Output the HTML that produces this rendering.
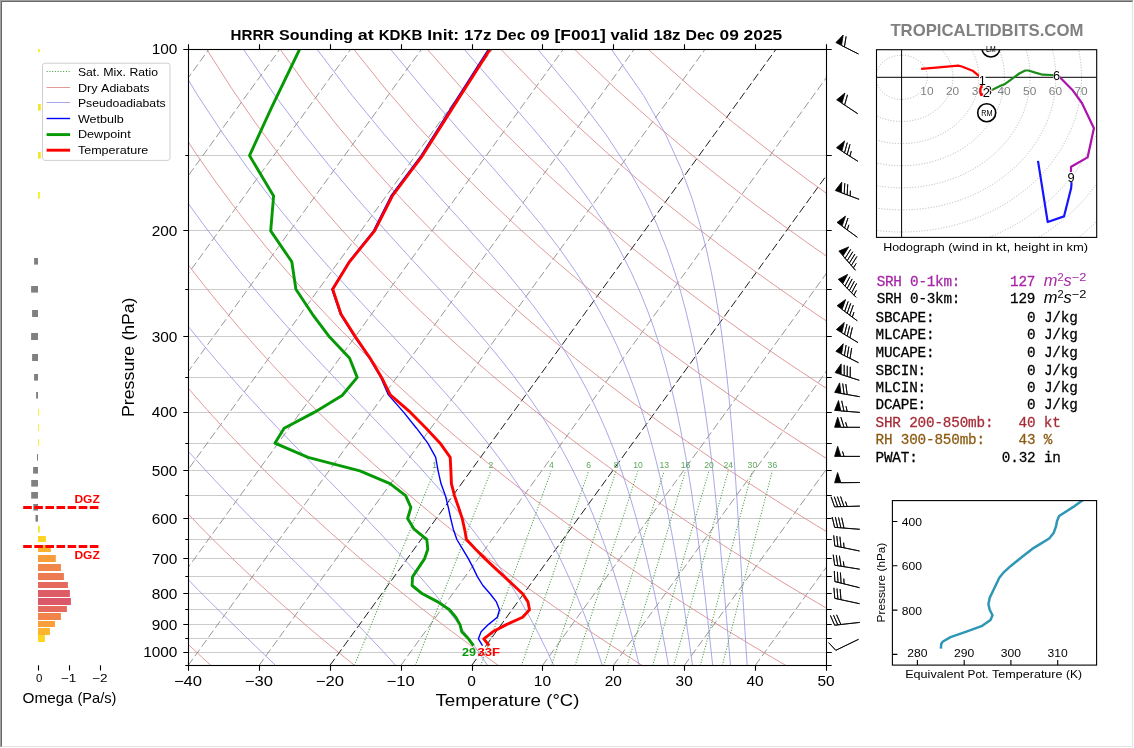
<!DOCTYPE html>
<html>
<head>
<meta charset="utf-8">
<title>HRRR Sounding at KDKB</title>
<style>
html,body{margin:0;padding:0;background:#fff;}
body{width:1134px;height:748px;overflow:hidden;position:relative;font-family:"Liberation Sans",sans-serif;}
#frame{position:absolute;left:0;top:0;width:1133px;height:747px;box-sizing:border-box;border-top:1px solid #a0a0a0;border-left:1px solid #a0a0a0;}
#frame2{position:absolute;left:1px;top:1px;width:1132px;height:746px;box-sizing:border-box;border-top:1px solid #696969;border-left:1px solid #696969;border-right:1px solid #e3e3e3;border-bottom:1px solid #e3e3e3;}
svg{position:absolute;left:0;top:0;will-change:transform;transform:translateZ(0);}
svg text{font-family:"Liberation Sans",sans-serif;}
svg text.m{font-family:"Liberation Mono",monospace;}
</style>
</head>
<body>
<div id="frame"></div><div id="frame2"></div>
<svg width="1134" height="748" viewBox="0 0 1134 748">
<clipPath id="cm"><rect x="188" y="49.7" width="638" height="615.9"/></clipPath>
<g clip-path="url(#cm)" fill="none">
<path d="M188 49.5H826M188 155.5H826M188 230.5H826M188 289.5H826M188 336.5H826M188 377.5H826M188 412.5H826M188 443.5H826M188 470.5H826M188 495.5H826M188 518.5H826M188 539.5H826M188 558.5H826M188 576.5H826M188 593.5H826M188 609.5H826M188 624.5H826M188 638.5H826M188 652.5H826" stroke="#cbcbcb" stroke-width="1"/>
<path d="M-450 665.6L-4.1 49.7M-379.1 665.6L66.8 49.7M-308.2 665.6L137.7 49.7M-237.3 665.6L208.6 49.7M-166.4 665.6L279.5 49.7M-95.6 665.6L350.4 49.7M-24.7 665.6L421.2 49.7M46.2 665.6L492.1 49.7M117.1 665.6L563 49.7M188 665.6L633.9 49.7M258.9 665.6L704.8 49.7M400.7 665.6L846.6 49.7M542.4 665.6L988.4 49.7M613.3 665.6L1059.2 49.7M684.2 665.6L1130.1 49.7M755.1 665.6L1201 49.7M826 665.6L1271.9 49.7" stroke="#848484" stroke-width="0.85" stroke-dasharray="8.3 3.35"/>
<path d="M329.8 665.6L775.7 49.7M471.6 665.6L917.5 49.7" stroke="#111" stroke-width="0.95" stroke-dasharray="8.3 3.35"/>
<path d="M211.1 665.6 L206.7 661.6 L202.2 657.4 L197.7 653.3 L193.2 649 L188.6 644.7 L184 640.3 L179.3 635.9 L174.6 631.3 L169.9 626.7 L165.1 622 L160.3 617.2 L155.4 612.3 L150.5 607.4 L145.5 602.3 L140.5 597.1 L135.4 591.9 L130.3 586.5 L125.1 581 L119.9 575.4 L114.6 569.7 L109.2 563.8 L103.8 557.8 L98.4 551.7 L92.8 545.4 L87.2 539 L81.6 532.4 L75.8 525.6 L70 518.6 L64.2 511.5 L58.2 504.2 L52.2 496.6 L46.1 488.9 L39.9 480.9 L33.6 472.6 L27.2 464.1 L20.8 455.2 L14.2 446.1 L7.6 436.7 L0.8 426.9 L-6 416.7 L-13 406.1 L-20.1 395 L-27.3 383.5 L-34.7 371.4 L-42.1 358.8 L-49.7 345.5 L-57.5 331.5 L-65.4 316.7 L-73.4 301 L-81.6 284.3 L-89.9 266.5 L-98.4 247.4 L-107.1 226.8 L-115.9 204.4 L-124.8 179.9 L-133.8 152.9 L-143 122.8 L-152.1 88.8 L-161 49.7M354.9 665.6 L349.8 661.6 L344.7 657.4 L339.6 653.3 L334.4 649 L329.1 644.7 L323.9 640.3 L318.5 635.9 L313.1 631.3 L307.7 626.7 L302.2 622 L296.7 617.2 L291.1 612.3 L285.4 607.4 L279.7 602.3 L273.9 597.1 L268.1 591.9 L262.2 586.5 L256.2 581 L250.2 575.4 L244.1 569.7 L237.9 563.8 L231.7 557.8 L225.4 551.7 L219 545.4 L212.5 539 L205.9 532.4 L199.3 525.6 L192.6 518.6 L185.8 511.5 L178.8 504.2 L171.8 496.6 L164.7 488.9 L157.5 480.9 L150.2 472.6 L142.7 464.1 L135.2 455.2 L127.5 446.1 L119.7 436.7 L111.7 426.9 L103.6 416.7 L95.4 406.1 L87 395 L78.5 383.5 L69.7 371.4 L60.8 358.8 L51.8 345.5 L42.5 331.5 L33 316.7 L23.3 301 L13.4 284.3 L3.2 266.5 L-7.2 247.4 L-17.9 226.8 L-28.8 204.4 L-40 179.9 L-51.5 152.9 L-63.3 122.8 L-75.3 88.8 L-87.4 49.7M498.6 665.6 L493 661.6 L487.2 657.4 L481.4 653.3 L475.6 649 L469.7 644.7 L463.7 640.3 L457.7 635.9 L451.6 631.3 L445.5 626.7 L439.3 622 L433 617.2 L426.7 612.3 L420.3 607.4 L413.9 602.3 L407.4 597.1 L400.8 591.9 L394.1 586.5 L387.3 581 L380.5 575.4 L373.6 569.7 L366.6 563.8 L359.5 557.8 L352.4 551.7 L345.1 545.4 L337.8 539 L330.3 532.4 L322.8 525.6 L315.1 518.6 L307.3 511.5 L299.5 504.2 L291.5 496.6 L283.3 488.9 L275.1 480.9 L266.7 472.6 L258.2 464.1 L249.5 455.2 L240.7 446.1 L231.7 436.7 L222.6 426.9 L213.3 416.7 L203.8 406.1 L194.1 395 L184.2 383.5 L174.1 371.4 L163.8 358.8 L153.3 345.5 L142.5 331.5 L131.4 316.7 L120 301 L108.4 284.3 L96.4 266.5 L84.1 247.4 L71.4 226.8 L58.3 204.4 L44.8 179.9 L30.8 152.9 L16.4 122.8 L1.5 88.8 L-13.8 49.7M642.4 665.6 L636.1 661.6 L629.7 657.4 L623.3 653.3 L616.8 649 L610.2 644.7 L603.6 640.3 L596.9 635.9 L590.1 631.3 L583.3 626.7 L576.4 622 L569.4 617.2 L562.4 612.3 L555.3 607.4 L548.1 602.3 L540.8 597.1 L533.4 591.9 L526 586.5 L518.5 581 L510.8 575.4 L503.1 569.7 L495.3 563.8 L487.4 557.8 L479.4 551.7 L471.3 545.4 L463 539 L454.7 532.4 L446.2 525.6 L437.6 518.6 L428.9 511.5 L420.1 504.2 L411.1 496.6 L402 488.9 L392.7 480.9 L383.3 472.6 L373.7 464.1 L363.9 455.2 L354 446.1 L343.8 436.7 L333.5 426.9 L323 416.7 L312.2 406.1 L301.2 395 L290 383.5 L278.5 371.4 L266.8 358.8 L254.8 345.5 L242.4 331.5 L229.8 316.7 L216.7 301 L203.3 284.3 L189.5 266.5 L175.3 247.4 L160.6 226.8 L145.3 204.4 L129.5 179.9 L113.1 152.9 L96.1 122.8 L78.3 88.8 L59.8 49.7M786.2 665.6 L779.2 661.6 L772.2 657.4 L765.1 653.3 L758 649 L750.7 644.7 L743.4 640.3 L736.1 635.9 L728.6 631.3 L721.1 626.7 L713.5 622 L705.8 617.2 L698.1 612.3 L690.2 607.4 L682.3 602.3 L674.3 597.1 L666.1 591.9 L657.9 586.5 L649.6 581 L641.2 575.4 L632.7 569.7 L624 563.8 L615.3 557.8 L606.4 551.7 L597.4 545.4 L588.3 539 L579.1 532.4 L569.7 525.6 L560.2 518.6 L550.5 511.5 L540.7 504.2 L530.7 496.6 L520.6 488.9 L510.3 480.9 L499.8 472.6 L489.1 464.1 L478.3 455.2 L467.2 446.1 L455.9 436.7 L444.4 426.9 L432.6 416.7 L420.6 406.1 L408.4 395 L395.8 383.5 L383 371.4 L369.8 358.8 L356.3 345.5 L342.4 331.5 L328.1 316.7 L313.4 301 L298.3 284.3 L282.7 266.5 L266.5 247.4 L249.8 226.8 L232.4 204.4 L214.3 179.9 L195.5 152.9 L175.8 122.8 L155.1 88.8 L133.3 49.7M929.9 665.6 L922.3 661.6 L914.7 657.4 L907 653.3 L899.2 649 L891.3 644.7 L883.3 640.3 L875.3 635.9 L867.1 631.3 L858.9 626.7 L850.6 622 L842.2 617.2 L833.7 612.3 L825.2 607.4 L816.5 602.3 L807.7 597.1 L798.8 591.9 L789.8 586.5 L780.7 581 L771.5 575.4 L762.2 569.7 L752.7 563.8 L743.1 557.8 L733.4 551.7 L723.6 545.4 L713.6 539 L703.4 532.4 L693.1 525.6 L682.7 518.6 L672.1 511.5 L661.3 504.2 L650.4 496.6 L639.2 488.9 L627.9 480.9 L616.4 472.6 L604.6 464.1 L592.6 455.2 L580.4 446.1 L568 436.7 L555.3 426.9 L542.3 416.7 L529 406.1 L515.5 395 L501.6 383.5 L487.4 371.4 L472.8 358.8 L457.8 345.5 L442.4 331.5 L426.5 316.7 L410.2 301 L393.3 284.3 L375.8 266.5 L357.8 247.4 L339 226.8 L319.5 204.4 L299.1 179.9 L277.8 152.9 L255.4 122.8 L231.9 88.8 L206.9 49.7M1073.7 665.6 L1065.5 661.6 L1057.2 657.4 L1048.8 653.3 L1040.3 649 L1031.8 644.7 L1023.2 640.3 L1014.4 635.9 L1005.6 631.3 L996.7 626.7 L987.7 622 L978.6 617.2 L969.4 612.3 L960.1 607.4 L950.7 602.3 L941.2 597.1 L931.5 591.9 L921.7 586.5 L911.9 581 L901.8 575.4 L891.7 569.7 L881.4 563.8 L871 557.8 L860.4 551.7 L849.7 545.4 L838.8 539 L827.8 532.4 L816.6 525.6 L805.2 518.6 L793.7 511.5 L781.9 504.2 L770 496.6 L757.8 488.9 L745.5 480.9 L732.9 472.6 L720.1 464.1 L707 455.2 L693.7 446.1 L680.1 436.7 L666.2 426.9 L652 416.7 L637.5 406.1 L622.6 395 L607.4 383.5 L591.8 371.4 L575.7 358.8 L559.3 345.5 L542.3 331.5 L524.9 316.7 L506.9 301 L488.3 284.3 L469 266.5 L449 247.4 L428.2 226.8 L406.5 204.4 L383.9 179.9 L360.1 152.9 L335.1 122.8 L308.6 88.8 L280.5 49.7M1217.5 665.6 L1208.6 661.6 L1199.7 657.4 L1190.7 653.3 L1181.5 649 L1172.3 644.7 L1163 640.3 L1153.6 635.9 L1144.1 631.3 L1134.5 626.7 L1124.8 622 L1115 617.2 L1105.1 612.3 L1095 607.4 L1084.9 602.3 L1074.6 597.1 L1064.2 591.9 L1053.7 586.5 L1043 581 L1032.2 575.4 L1021.2 569.7 L1010.1 563.8 L998.9 557.8 L987.4 551.7 L975.9 545.4 L964.1 539 L952.2 532.4 L940.1 525.6 L927.8 518.6 L915.3 511.5 L902.6 504.2 L889.6 496.6 L876.5 488.9 L863.1 480.9 L849.4 472.6 L835.5 464.1 L821.4 455.2 L806.9 446.1 L792.2 436.7 L777.1 426.9 L761.7 416.7 L745.9 406.1 L729.7 395 L713.2 383.5 L696.2 371.4 L678.7 358.8 L660.8 345.5 L642.3 331.5 L623.3 316.7 L603.6 301 L583.2 284.3 L562.1 266.5 L540.2 247.4 L517.4 226.8 L493.6 204.4 L468.7 179.9 L442.5 152.9 L414.8 122.8 L385.4 88.8 L354.1 49.7M1361.2 665.6 L1351.7 661.6 L1342.2 657.4 L1332.5 653.3 L1322.7 649 L1312.9 644.7 L1302.9 640.3 L1292.8 635.9 L1282.6 631.3 L1272.3 626.7 L1261.9 622 L1251.4 617.2 L1240.8 612.3 L1230 607.4 L1219.1 602.3 L1208 597.1 L1196.9 591.9 L1185.6 586.5 L1174.1 581 L1162.5 575.4 L1150.7 569.7 L1138.8 563.8 L1126.7 557.8 L1114.4 551.7 L1102 545.4 L1089.4 539 L1076.6 532.4 L1063.5 525.6 L1050.3 518.6 L1036.8 511.5 L1023.2 504.2 L1009.3 496.6 L995.1 488.9 L980.7 480.9 L966 472.6 L951 464.1 L935.7 455.2 L920.2 446.1 L904.2 436.7 L888 426.9 L871.3 416.7 L854.3 406.1 L836.8 395 L819 383.5 L800.6 371.4 L781.7 358.8 L762.3 345.5 L742.3 331.5 L721.6 316.7 L700.3 301 L678.2 284.3 L655.3 266.5 L631.5 247.4 L606.6 226.8 L580.7 204.4 L553.5 179.9 L524.8 152.9 L494.5 122.8 L462.2 88.8 L427.7 49.7M1505 665.6 L1494.9 661.6 L1484.7 657.4 L1474.3 653.3 L1463.9 649 L1453.4 644.7 L1442.8 640.3 L1432 635.9 L1421.1 631.3 L1410.2 626.7 L1399 622 L1387.8 617.2 L1376.4 612.3 L1364.9 607.4 L1353.3 602.3 L1341.5 597.1 L1329.6 591.9 L1317.5 586.5 L1305.2 581 L1292.8 575.4 L1280.3 569.7 L1267.5 563.8 L1254.6 557.8 L1241.5 551.7 L1228.2 545.4 L1214.6 539 L1200.9 532.4 L1187 525.6 L1172.8 518.6 L1158.4 511.5 L1143.8 504.2 L1128.9 496.6 L1113.7 488.9 L1098.3 480.9 L1082.5 472.6 L1066.5 464.1 L1050.1 455.2 L1033.4 446.1 L1016.3 436.7 L998.9 426.9 L981 416.7 L962.7 406.1 L944 395 L924.7 383.5 L905 371.4 L884.7 358.8 L863.8 345.5 L842.2 331.5 L820 316.7 L797 301 L773.2 284.3 L748.4 266.5 L722.7 247.4 L695.8 226.8 L667.7 204.4 L638.2 179.9 L607.1 152.9 L574.1 122.8 L539 88.8 L501.3 49.7M1648.7 665.6 L1638 661.6 L1627.2 657.4 L1616.2 653.3 L1605.1 649 L1593.9 644.7 L1582.6 640.3 L1571.2 635.9 L1559.6 631.3 L1548 626.7 L1536.1 622 L1524.2 617.2 L1512.1 612.3 L1499.9 607.4 L1487.5 602.3 L1474.9 597.1 L1462.2 591.9 L1449.4 586.5 L1436.4 581 L1423.2 575.4 L1409.8 569.7 L1396.2 563.8 L1382.4 557.8 L1368.5 551.7 L1354.3 545.4 L1339.9 539 L1325.3 532.4 L1310.5 525.6 L1295.4 518.6 L1280 511.5 L1264.4 504.2 L1248.5 496.6 L1232.4 488.9 L1215.9 480.9 L1199.1 472.6 L1182 464.1 L1164.5 455.2 L1146.6 446.1 L1128.4 436.7 L1109.8 426.9 L1090.7 416.7 L1071.1 406.1 L1051.1 395 L1030.5 383.5 L1009.4 371.4 L987.7 358.8 L965.3 345.5 L942.2 331.5 L918.4 316.7 L893.7 301 L868.1 284.3 L841.6 266.5 L813.9 247.4 L785.1 226.8 L754.8 204.4 L723 179.9 L689.4 152.9 L653.8 122.8 L615.8 88.8 L574.9 49.7M1792.5 665.6 L1781.1 661.6 L1769.6 657.4 L1758 653.3 L1746.3 649 L1734.5 644.7 L1722.5 640.3 L1710.4 635.9 L1698.1 631.3 L1685.8 626.7 L1673.2 622 L1660.6 617.2 L1647.8 612.3 L1634.8 607.4 L1621.7 602.3 L1608.4 597.1 L1594.9 591.9 L1581.3 586.5 L1567.5 581 L1553.5 575.4 L1539.3 569.7 L1524.9 563.8 L1510.3 557.8 L1495.5 551.7 L1480.4 545.4 L1465.2 539 L1449.7 532.4 L1433.9 525.6 L1417.9 518.6 L1401.6 511.5 L1385 504.2 L1368.2 496.6 L1351 488.9 L1333.5 480.9 L1315.6 472.6 L1297.4 464.1 L1278.9 455.2 L1259.9 446.1 L1240.5 436.7 L1220.6 426.9 L1200.3 416.7 L1179.5 406.1 L1158.2 395 L1136.3 383.5 L1113.8 371.4 L1090.6 358.8 L1066.8 345.5 L1042.2 331.5 L1016.7 316.7 L990.4 301 L963.1 284.3 L934.7 266.5 L905.2 247.4 L874.3 226.8 L841.9 204.4 L807.8 179.9 L771.8 152.9 L733.5 122.8 L692.6 88.8 L648.5 49.7" stroke="#dc8888" stroke-width="0.85"/>
<path d="M-124.2 49.7 L-111.8 95.3 L-99.3 134.1 L-87.1 167.9 L-75.1 197.9 L-63.4 224.7 L-52 249.1 L-40.9 271.4 L-30 291.9 L-19.5 311 L-9.1 328.7 L0.9 345.4 L10.8 361 L20.4 375.7 L29.8 389.7 L39 403 L48 415.6 L56.8 427.6 L65.4 439.1 L73.9 450.2 L82.3 460.7 L90.4 470.9 L98.5 480.7 L106.3 490.1 L114.1 499.2 L121.7 508.1 L129.2 516.6 L136.5 524.8 L143.8 532.8 L150.9 540.6 L157.9 548.1 L164.8 555.4 L171.6 562.6 L178.2 569.5 L184.8 576.3 L191.3 582.8 L197.6 589.3 L203.8 595.5 L210 601.7 L216 607.7 L222 613.5 L227.8 619.2 L233.5 624.8 L239.2 630.3 L244.7 635.7 L250.2 641 L255.5 646.1 L260.8 651.2 L265.9 656.1 L271 661 L275.7 665.6M-50.6 49.7 L-34.4 95.3 L-18.7 134.1 L-3.4 167.9 L11.3 197.9 L25.6 224.7 L39.4 249.1 L52.8 271.4 L65.7 291.9 L78.3 311 L90.5 328.7 L102.4 345.4 L114 361 L125.2 375.7 L136.2 389.7 L146.9 403 L157.4 415.6 L167.6 427.6 L177.6 439.1 L187.3 450.2 L196.9 460.7 L206.2 470.9 L215.3 480.7 L224.2 490.1 L232.9 499.2 L241.5 508.1 L249.8 516.6 L257.9 524.8 L265.9 532.8 L273.6 540.6 L281.2 548.1 L288.5 555.4 L295.7 562.6 L302.7 569.5 L309.6 576.3 L316.2 582.8 L322.7 589.3 L329 595.5 L335.1 601.7 L341 607.7 L346.8 613.5 L352.4 619.2 L357.8 624.8 L363.1 630.3 L368.3 635.7 L373.2 641 L378.1 646.1 L382.8 651.2 L387.3 656.1 L391.7 661 L395.8 665.6M23 49.7 L42.9 95.3 L62 134.1 L80.3 167.9 L97.8 197.9 L114.6 224.7 L130.8 249.1 L146.4 271.4 L161.5 291.9 L176 311 L190.1 328.7 L203.7 345.4 L216.9 361 L229.8 375.7 L242.2 389.7 L254.3 403 L266 415.6 L277.3 427.6 L288.3 439.1 L299 450.2 L309.3 460.7 L319.2 470.9 L328.9 480.7 L338.2 490.1 L347.1 499.2 L355.8 508.1 L364.1 516.6 L372 524.8 L379.7 532.8 L387.1 540.6 L394.1 548.1 L400.9 555.4 L407.4 562.6 L413.6 569.5 L419.6 576.3 L425.3 582.8 L430.8 589.3 L436 595.5 L441 601.7 L445.8 607.7 L450.5 613.5 L454.9 619.2 L459.1 624.8 L463.2 630.3 L467.1 635.7 L470.9 641 L474.5 646.1 L478 651.2 L481.4 656.1 L484.6 661 L487.6 665.6M96.6 49.7 L120.2 95.3 L142.7 134.1 L164 167.9 L184.2 197.9 L203.6 224.7 L222.1 249.1 L239.9 271.4 L257 291.9 L273.4 311 L289.1 328.7 L304.2 345.4 L318.8 361 L332.7 375.7 L346 389.7 L358.7 403 L370.9 415.6 L382.4 427.6 L393.4 439.1 L403.8 450.2 L413.7 460.7 L423 470.9 L431.8 480.7 L440.1 490.1 L447.9 499.2 L455.2 508.1 L462.2 516.6 L468.7 524.8 L474.9 532.8 L480.7 540.6 L486.2 548.1 L491.4 555.4 L496.4 562.6 L501 569.5 L505.4 576.3 L509.6 582.8 L513.6 589.3 L517.4 595.5 L521 601.7 L524.4 607.7 L527.7 613.5 L530.8 619.2 L533.8 624.8 L536.7 630.3 L539.5 635.7 L542.1 641 L544.6 646.1 L547.1 651.2 L549.4 656.1 L551.7 661 L553.8 665.6M170.1 49.7 L197.6 95.3 L223.3 134.1 L247.6 167.9 L270.6 197.9 L292.4 224.7 L313.1 249.1 L332.7 271.4 L351.4 291.9 L369 311 L385.7 328.7 L401.3 345.4 L416 361 L429.7 375.7 L442.4 389.7 L454.2 403 L465.1 415.6 L475.2 427.6 L484.6 439.1 L493.2 450.2 L501.1 460.7 L508.4 470.9 L515.2 480.7 L521.5 490.1 L527.3 499.2 L532.8 508.1 L537.8 516.6 L542.5 524.8 L547 532.8 L551.1 540.6 L555 548.1 L558.6 555.4 L562.1 562.6 L565.3 569.5 L568.4 576.3 L571.3 582.8 L574.1 589.3 L576.7 595.5 L579.2 601.7 L581.6 607.7 L583.9 613.5 L586.1 619.2 L588.2 624.8 L590.2 630.3 L592.1 635.7 L594 641 L595.8 646.1 L597.5 651.2 L599.2 656.1 L600.8 661 L602.3 665.6M243.7 49.7 L274.9 95.3 L303.9 134.1 L331 167.9 L356.4 197.9 L380.2 224.7 L402.3 249.1 L422.9 271.4 L441.8 291.9 L459.1 311 L474.8 328.7 L489.1 345.4 L501.9 361 L513.4 375.7 L523.8 389.7 L533.1 403 L541.5 415.6 L549.1 427.6 L556 439.1 L562.3 450.2 L568 460.7 L573.2 470.9 L578 480.7 L582.4 490.1 L586.5 499.2 L590.2 508.1 L593.7 516.6 L597 524.8 L600.1 532.8 L603 540.6 L605.7 548.1 L608.2 555.4 L610.6 562.6 L612.9 569.5 L615 576.3 L617.1 582.8 L619 589.3 L620.9 595.5 L622.7 601.7 L624.4 607.7 L626 613.5 L627.5 619.2 L629 624.8 L630.5 630.3 L631.9 635.7 L633.2 641 L634.5 646.1 L635.8 651.2 L637 656.1 L638.2 661 L639.2 665.6M317.3 49.7 L352 95.3 L384 134.1 L413.5 167.9 L440.3 197.9 L464.7 224.7 L486.4 249.1 L505.7 271.4 L522.5 291.9 L537.2 311 L550 328.7 L561.2 345.4 L570.9 361 L579.4 375.7 L586.9 389.7 L593.6 403 L599.5 415.6 L604.9 427.6 L609.6 439.1 L614 450.2 L617.9 460.7 L621.5 470.9 L624.8 480.7 L627.9 490.1 L630.7 499.2 L633.3 508.1 L635.8 516.6 L638.1 524.8 L640.2 532.8 L642.2 540.6 L644.1 548.1 L645.9 555.4 L647.6 562.6 L649.2 569.5 L650.8 576.3 L652.2 582.8 L653.6 589.3 L655 595.5 L656.3 601.7 L657.5 607.7 L658.7 613.5 L659.8 619.2 L660.9 624.8 L662 630.3 L663 635.7 L664 641 L665 646.1 L665.9 651.2 L666.8 656.1 L667.7 661 L668.5 665.6M390.9 49.7 L428.8 95.3 L462.8 134.1 L492.9 167.9 L518.9 197.9 L541.2 224.7 L559.8 249.1 L575.5 271.4 L588.5 291.9 L599.5 311 L608.8 328.7 L616.8 345.4 L623.6 361 L629.5 375.7 L634.7 389.7 L639.3 403 L643.4 415.6 L647.1 427.6 L650.4 439.1 L653.4 450.2 L656.1 460.7 L658.6 470.9 L660.9 480.7 L663 490.1 L665 499.2 L666.8 508.1 L668.5 516.6 L670.1 524.8 L671.7 532.8 L673.1 540.6 L674.4 548.1 L675.7 555.4 L677 562.6 L678.1 569.5 L679.2 576.3 L680.3 582.8 L681.3 589.3 L682.3 595.5 L683.3 601.7 L684.2 607.7 L685 613.5 L685.9 619.2 L686.7 624.8 L687.5 630.3 L688.3 635.7 L689.1 641 L689.8 646.1 L690.5 651.2 L691.2 656.1 L691.9 661 L692.5 665.6M464.5 49.7 L504.1 95.3 L537.8 134.1 L565.4 167.9 L587.6 197.9 L605.3 224.7 L619.4 249.1 L630.8 271.4 L640 291.9 L647.7 311 L654.1 328.7 L659.5 345.4 L664.2 361 L668.2 375.7 L671.8 389.7 L674.9 403 L677.7 415.6 L680.2 427.6 L682.4 439.1 L684.5 450.2 L686.4 460.7 L688.1 470.9 L689.7 480.7 L691.2 490.1 L692.5 499.2 L693.8 508.1 L695 516.6 L696.2 524.8 L697.2 532.8 L698.3 540.6 L699.2 548.1 L700.2 555.4 L701 562.6 L701.9 569.5 L702.7 576.3 L703.5 582.8 L704.2 589.3 L705 595.5 L705.7 601.7 L706.4 607.7 L707 613.5 L707.7 619.2 L708.3 624.8 L708.9 630.3 L709.5 635.7 L710.1 641 L710.6 646.1 L711.2 651.2 L711.7 656.1 L712.2 661 L712.7 665.6M538.1 49.7 L576.3 95.3 L605.7 134.1 L627.8 167.9 L644.4 197.9 L657 224.7 L666.8 249.1 L674.5 271.4 L680.7 291.9 L685.8 311 L690.1 328.7 L693.7 345.4 L696.8 361 L699.5 375.7 L701.9 389.7 L703.9 403 L705.8 415.6 L707.5 427.6 L709 439.1 L710.4 450.2 L711.6 460.7 L712.8 470.9 L713.9 480.7 L714.9 490.1 L715.8 499.2 L716.7 508.1 L717.5 516.6 L718.3 524.8 L719.1 532.8 L719.8 540.6 L720.5 548.1 L721.1 555.4 L721.8 562.6 L722.4 569.5 L723 576.3 L723.5 582.8 L724.1 589.3 L724.6 595.5 L725.1 601.7 L725.6 607.7 L726.1 613.5 L726.6 619.2 L727.1 624.8 L727.5 630.3 L728 635.7 L728.4 641 L728.8 646.1 L729.3 651.2 L729.7 656.1 L730.1 661 L730.5 665.6M611.7 49.7 L643.5 95.3 L665.5 134.1 L680.8 167.9 L691.9 197.9 L700 224.7 L706.3 249.1 L711.2 271.4 L715.1 291.9 L718.3 311 L721 328.7 L723.2 345.4 L725.1 361 L726.8 375.7 L728.3 389.7 L729.5 403 L730.7 415.6 L731.7 427.6 L732.7 439.1 L733.5 450.2 L734.3 460.7 L735 470.9 L735.7 480.7 L736.3 490.1 L736.9 499.2 L737.5 508.1 L738 516.6 L738.6 524.8 L739 532.8 L739.5 540.6 L740 548.1 L740.4 555.4 L740.8 562.6 L741.3 569.5 L741.7 576.3 L742 582.8 L742.4 589.3 L742.8 595.5 L743.2 601.7 L743.5 607.7 L743.9 613.5 L744.2 619.2 L744.6 624.8 L744.9 630.3 L745.3 635.7 L745.6 641 L745.9 646.1 L746.2 651.2 L746.6 656.1 L746.9 661 L747.2 665.6" stroke="#9898e5" stroke-width="0.85"/>
<path d="M354.3 665.6 L434.4 471.3M415.2 665.6 L490.7 471.3M480.7 665.6 L551.1 471.3M521.4 665.6 L588.5 471.3M551.3 665.6 L616 471.3M575.1 665.6 L637.8 471.3M603.8 665.6 L664.1 471.3M627.1 665.6 L685.4 471.3M652.6 665.6 L708.8 471.3M673.8 665.6 L728.1 471.3M700.3 665.6 L752.2 471.3M722.2 665.6 L772.2 471.3" stroke="#459c45" stroke-width="1.05" stroke-dasharray="1.05 1.7"/>
<text x="434.6" y="468.3" font-size="8.6" fill="#5aa85a" text-anchor="middle" stroke="none">1</text>
<text x="490.9" y="468.3" font-size="8.6" fill="#5aa85a" text-anchor="middle" stroke="none">2</text>
<text x="551.3" y="468.3" font-size="8.6" fill="#5aa85a" text-anchor="middle" stroke="none">4</text>
<text x="588.7" y="468.3" font-size="8.6" fill="#5aa85a" text-anchor="middle" stroke="none">6</text>
<text x="616.2" y="468.3" font-size="8.6" fill="#5aa85a" text-anchor="middle" stroke="none">8</text>
<text x="638" y="468.3" font-size="8.6" fill="#5aa85a" text-anchor="middle" stroke="none">10</text>
<text x="664.3" y="468.3" font-size="8.6" fill="#5aa85a" text-anchor="middle" stroke="none">13</text>
<text x="685.6" y="468.3" font-size="8.6" fill="#5aa85a" text-anchor="middle" stroke="none">16</text>
<text x="709" y="468.3" font-size="8.6" fill="#5aa85a" text-anchor="middle" stroke="none">20</text>
<text x="728.3" y="468.3" font-size="8.6" fill="#5aa85a" text-anchor="middle" stroke="none">24</text>
<text x="752.4" y="468.3" font-size="8.6" fill="#5aa85a" text-anchor="middle" stroke="none">30</text>
<text x="772.4" y="468.3" font-size="8.6" fill="#5aa85a" text-anchor="middle" stroke="none">36</text>
<path d="M488.3 49.5 L451 107.9 L421 155.6 L390.9 196 L373.4 230.9 L348.7 261.8 L331.9 289.3 L340.3 314.3 L354.8 337.1 L369.2 358 L380.7 377.4 L388.4 394.9 L403.8 412.4 L416.5 428.2 L427.8 443.2 L435.7 457.4 L438.1 470.8 L441 483.6 L445.4 495.7 L448.3 507.4 L450.7 518.5 L453.3 529.2 L456.9 539.5 L462.8 549.3 L468.5 558.9 L473.3 568.1 L477.5 576.9 L482.9 585.5 L490.1 593.8 L496.4 601.9 L499.5 609.7 L497.3 617.3 L488.3 624.6 L481.1 631.8 L478.4 638.8 L482.5 645.6" stroke="#0000ff" stroke-width="1.4" stroke-linejoin="round"/>
<path d="M299.5 49.5 L271.4 107.9 L249.5 155.6 L273.6 196 L270.7 230.9 L291.8 261.8 L295.9 289.3 L312.5 314.3 L329.6 337.1 L349.5 358 L357.2 377.4 L342.1 395.5 L314.2 412.4 L284.1 428.2 L274.9 443.2 L308.1 457.4 L359.9 470.8 L390 483.6 L405.6 495.7 L410.9 507.4 L407.6 518.5 L414.1 529.2 L426.8 539.5 L427.8 549.3 L424.5 558.9 L418.3 568.1 L412.5 576.9 L412.1 585.5 L422.4 593.8 L437.8 601.9 L449.5 609.7 L455.8 617.3 L460 624.6 L461.8 631.8 L468.5 638.8 L473.5 645.6" stroke="#059905" stroke-width="2.9" stroke-linejoin="round"/>
<path d="M489.9 49.5 L452.6 107.9 L422.5 155.6 L392.3 196 L374.6 230.9 L349.5 261.8 L332.7 289.3 L341.1 314.3 L355.6 337.1 L370 358 L381.6 377.4 L390.3 394.9 L410.5 412.4 L426.1 428.2 L440.1 443.2 L450.2 457.4 L450.9 470.8 L451.4 483.6 L454.5 495.7 L458.6 507.4 L462.2 518.5 L464.6 529.2 L466.5 539.5 L475.6 549.3 L485.2 558.9 L495 568.1 L504.6 576.9 L513.8 585.5 L522.6 593.8 L528 601.9 L529.5 609.7 L522.6 617.3 L506.4 624.6 L492.8 631.8 L483.8 638.8 L489.2 645.6" stroke="#ff0000" stroke-width="2.9" stroke-linejoin="round"/>
</g>
<text x="462" y="655.6" font-size="11.3" font-weight="bold" fill="#059905" textLength="14" lengthAdjust="spacingAndGlyphs">29</text>
<text x="477.4" y="655.6" font-size="11.3" font-weight="bold" fill="#ff0000" textLength="22.6" lengthAdjust="spacingAndGlyphs">33F</text>
<rect x="188.5" y="49.5" width="638" height="616" fill="none" stroke="#000" stroke-width="1.1"/>
<path d="M188.5 49.5h-5.2M826.5 49.5h5.2M188.5 155.5h-3.2M826.5 155.5h5.2M188.5 230.5h-5.2M826.5 230.5h5.2M188.5 289.5h-3.2M826.5 289.5h5.2M188.5 336.5h-5.2M826.5 336.5h5.2M188.5 377.5h-3.2M826.5 377.5h5.2M188.5 412.5h-5.2M826.5 412.5h5.2M188.5 443.5h-3.2M826.5 443.5h5.2M188.5 470.5h-5.2M826.5 470.5h5.2M188.5 495.5h-3.2M826.5 495.5h5.2M188.5 518.5h-5.2M826.5 518.5h5.2M188.5 539.5h-3.2M826.5 539.5h5.2M188.5 558.5h-5.2M826.5 558.5h5.2M188.5 576.5h-3.2M826.5 576.5h5.2M188.5 593.5h-5.2M826.5 593.5h5.2M188.5 609.5h-3.2M826.5 609.5h5.2M188.5 624.5h-5.2M826.5 624.5h5.2M188.5 638.5h-3.2M826.5 638.5h5.2M188.5 652.5h-5.2M826.5 652.5h5.2M188.5 665.5h-3.2M826.5 665.5h5.2M188.5 665.5v5.2M188.5 49.5v-5.2M259.5 665.5v5.2M259.5 49.5v-5.2M330.5 665.5v5.2M330.5 49.5v-5.2M401.5 665.5v5.2M401.5 49.5v-5.2M472.5 665.5v5.2M472.5 49.5v-5.2M542.5 665.5v5.2M542.5 49.5v-5.2M613.5 665.5v5.2M613.5 49.5v-5.2M684.5 665.5v5.2M684.5 49.5v-5.2M755.5 665.5v5.2M755.5 49.5v-5.2M826.5 665.5v5.2M826.5 49.5v-5.2" stroke="#000" stroke-width="1.1" fill="none"/>
<text x="177.4" y="54.3" font-size="14.2" text-anchor="end" textLength="25.7" lengthAdjust="spacingAndGlyphs">100</text>
<text x="177.4" y="235.9" font-size="14.2" text-anchor="end" textLength="25.7" lengthAdjust="spacingAndGlyphs">200</text>
<text x="177.4" y="342.1" font-size="14.2" text-anchor="end" textLength="25.7" lengthAdjust="spacingAndGlyphs">300</text>
<text x="177.4" y="417.4" font-size="14.2" text-anchor="end" textLength="25.7" lengthAdjust="spacingAndGlyphs">400</text>
<text x="177.4" y="475.9" font-size="14.2" text-anchor="end" textLength="25.7" lengthAdjust="spacingAndGlyphs">500</text>
<text x="177.4" y="523.6" font-size="14.2" text-anchor="end" textLength="25.7" lengthAdjust="spacingAndGlyphs">600</text>
<text x="177.4" y="564" font-size="14.2" text-anchor="end" textLength="25.7" lengthAdjust="spacingAndGlyphs">700</text>
<text x="177.4" y="599" font-size="14.2" text-anchor="end" textLength="25.7" lengthAdjust="spacingAndGlyphs">800</text>
<text x="177.4" y="629.8" font-size="14.2" text-anchor="end" textLength="25.7" lengthAdjust="spacingAndGlyphs">900</text>
<text x="177.4" y="657.4" font-size="14.2" text-anchor="end" textLength="34.2" lengthAdjust="spacingAndGlyphs">1000</text>
<text x="188" y="686.3" font-size="14.2" text-anchor="middle" textLength="28.2" lengthAdjust="spacingAndGlyphs">−40</text>
<text x="258.9" y="686.3" font-size="14.2" text-anchor="middle" textLength="28.2" lengthAdjust="spacingAndGlyphs">−30</text>
<text x="329.8" y="686.3" font-size="14.2" text-anchor="middle" textLength="28.2" lengthAdjust="spacingAndGlyphs">−20</text>
<text x="400.7" y="686.3" font-size="14.2" text-anchor="middle" textLength="28.2" lengthAdjust="spacingAndGlyphs">−10</text>
<text x="471.6" y="686.3" font-size="14.2" text-anchor="middle" textLength="8.6" lengthAdjust="spacingAndGlyphs">0</text>
<text x="542.4" y="686.3" font-size="14.2" text-anchor="middle" textLength="17.2" lengthAdjust="spacingAndGlyphs">10</text>
<text x="613.3" y="686.3" font-size="14.2" text-anchor="middle" textLength="17.2" lengthAdjust="spacingAndGlyphs">20</text>
<text x="684.2" y="686.3" font-size="14.2" text-anchor="middle" textLength="17.2" lengthAdjust="spacingAndGlyphs">30</text>
<text x="755.1" y="686.3" font-size="14.2" text-anchor="middle" textLength="17.2" lengthAdjust="spacingAndGlyphs">40</text>
<text x="826" y="686.3" font-size="14.2" text-anchor="middle" textLength="17.2" lengthAdjust="spacingAndGlyphs">50</text>
<text y="705.6" font-size="17.2"><tspan x="435.4" textLength="105.6" lengthAdjust="spacingAndGlyphs">Temperature</tspan> <tspan x="546.3" textLength="33" lengthAdjust="spacingAndGlyphs">(°C)</tspan></text>
<text y="0" font-size="17.2" transform="translate(133.8 357.3) rotate(-90)"><tspan x="-59.8" textLength="71.2" lengthAdjust="spacingAndGlyphs">Pressure</tspan> <tspan x="16.7" textLength="43.1" lengthAdjust="spacingAndGlyphs">(hPa)</tspan></text>
<text y="39.8" font-size="14.3" font-weight="bold"><tspan x="230.6" textLength="43.7" lengthAdjust="spacingAndGlyphs">HRRR</tspan> <tspan x="279.1" textLength="73.9" lengthAdjust="spacingAndGlyphs">Sounding</tspan> <tspan x="357.8" textLength="16" lengthAdjust="spacingAndGlyphs">at</tspan> <tspan x="378.7" textLength="43.6" lengthAdjust="spacingAndGlyphs">KDKB</tspan> <tspan x="427.2" textLength="32" lengthAdjust="spacingAndGlyphs">Init:</tspan> <tspan x="464" textLength="27.4" lengthAdjust="spacingAndGlyphs">17z</tspan> <tspan x="496.3" textLength="29.2" lengthAdjust="spacingAndGlyphs">Dec</tspan> <tspan x="530.3" textLength="19.3" lengthAdjust="spacingAndGlyphs">09</tspan> <tspan x="554.5" textLength="51.2" lengthAdjust="spacingAndGlyphs">[F001]</tspan> <tspan x="610.5" textLength="37.9" lengthAdjust="spacingAndGlyphs">valid</tspan> <tspan x="653.2" textLength="27.4" lengthAdjust="spacingAndGlyphs">18z</tspan> <tspan x="685.5" textLength="29.2" lengthAdjust="spacingAndGlyphs">Dec</tspan> <tspan x="719.5" textLength="19.3" lengthAdjust="spacingAndGlyphs">09</tspan> <tspan x="743.6" textLength="38.7" lengthAdjust="spacingAndGlyphs">2025</tspan></text>
<rect x="42.5" y="63.2" width="127.5" height="97.2" rx="2.5" fill="#fff" fill-opacity="0.8" stroke="#cfcfcf" stroke-width="1"/>
<path d="M46.6 71.5H70.1" stroke="#459c45" stroke-width="1.05" stroke-dasharray="1.05 1.7" fill="none"/>
<text y="76.2" font-size="11.4"><tspan x="77.9" textLength="21.7" lengthAdjust="spacingAndGlyphs">Sat.</tspan> <tspan x="103.2" textLength="22.8" lengthAdjust="spacingAndGlyphs">Mix.</tspan> <tspan x="129.5" textLength="28.5" lengthAdjust="spacingAndGlyphs">Ratio</tspan></text>
<path d="M46.6 87.5H70.1" stroke="#dc8888" stroke-width="0.85" fill="none"/>
<text y="91.8" font-size="11.4"><tspan x="77.9" textLength="19.7" lengthAdjust="spacingAndGlyphs">Dry</tspan> <tspan x="101.1" textLength="48.4" lengthAdjust="spacingAndGlyphs">Adiabats</tspan></text>
<path d="M46.6 102.5H70.1" stroke="#9898e5" stroke-width="0.85" fill="none"/>
<text y="107.3" font-size="11.4"><tspan x="77.9" textLength="87.8" lengthAdjust="spacingAndGlyphs">Pseudoadiabats</tspan></text>
<path d="M46.6 118.5H70.1" stroke="#0000ff" stroke-width="1.4" fill="none"/>
<text y="122.9" font-size="11.4"><tspan x="77.9" textLength="45.8" lengthAdjust="spacingAndGlyphs">Wetbulb</tspan></text>
<path d="M46.6 134.6H70.1" stroke="#059905" stroke-width="2.9" fill="none"/>
<text y="138.4" font-size="11.4"><tspan x="77.9" textLength="52.8" lengthAdjust="spacingAndGlyphs">Dewpoint</tspan></text>
<path d="M46.6 150.2H70.1" stroke="#ff0000" stroke-width="2.9" fill="none"/>
<text y="154" font-size="11.4"><tspan x="77.9" textLength="70.4" lengthAdjust="spacingAndGlyphs">Temperature</tspan></text>
<rect x="38" y="49" width="1.8" height="3.2" fill="#f0ef23"/>
<rect x="38" y="104" width="2.8" height="6.6" fill="#f3e626"/>
<rect x="38" y="152" width="2.8" height="6.6" fill="#f3e626"/>
<rect x="38" y="192" width="1.8" height="6.6" fill="#f0ef23"/>
<rect x="34.1" y="258" width="3.9" height="6.6" fill="#808080"/>
<rect x="31.1" y="286" width="6.9" height="6.6" fill="#808080"/>
<rect x="32.1" y="310" width="5.9" height="7" fill="#808080"/>
<rect x="31.1" y="333" width="6.9" height="7" fill="#808080"/>
<rect x="32.1" y="354" width="5.9" height="7" fill="#808080"/>
<rect x="34.1" y="374" width="3.9" height="6.6" fill="#808080"/>
<rect x="36.1" y="392" width="1.9" height="6.6" fill="#808080"/>
<rect x="38" y="409" width="0.9" height="6.6" fill="#f0f421"/>
<rect x="38" y="424" width="0.9" height="7" fill="#f0f421"/>
<rect x="38" y="439" width="0.9" height="7" fill="#f0f421"/>
<rect x="37" y="454" width="1" height="6.6" fill="#808080"/>
<rect x="33.1" y="467" width="4.9" height="6.6" fill="#808080"/>
<rect x="31.2" y="480" width="6.8" height="6.6" fill="#808080"/>
<rect x="31.2" y="492" width="6.8" height="6.6" fill="#808080"/>
<rect x="33.3" y="504" width="4.7" height="6.6" fill="#808080"/>
<rect x="35.5" y="515" width="2.5" height="6.6" fill="#808080"/>
<rect x="38" y="526" width="1.8" height="6.6" fill="#f3e626"/>
<rect x="38" y="536" width="7.9" height="6" fill="#fbd524"/>
<rect x="38" y="545" width="12.9" height="7" fill="#fbb130"/>
<rect x="38" y="555" width="17.8" height="7" fill="#f99c3a"/>
<rect x="38" y="564" width="22.9" height="7" fill="#f0864a"/>
<rect x="38" y="573" width="25.9" height="7" fill="#ec7b52"/>
<rect x="38" y="582" width="29.9" height="6" fill="#e5695c"/>
<rect x="38" y="590" width="31.9" height="7" fill="#de5c66"/>
<rect x="38" y="598" width="32.9" height="7" fill="#db5868"/>
<rect x="38" y="606" width="28.9" height="6" fill="#e5695c"/>
<rect x="38" y="613" width="22.9" height="7" fill="#f0844a"/>
<rect x="38" y="621" width="16.9" height="6" fill="#f99e38"/>
<rect x="38" y="628" width="11.9" height="7" fill="#fdb52e"/>
<rect x="38" y="635" width="6.9" height="7" fill="#fbd724"/>
<path d="M23.2 507.4H99M23.2 546.4H99" stroke="#f00" stroke-width="3" stroke-dasharray="8.6 2.5" fill="none"/>
<text x="74.4" y="502.5" font-size="11" font-weight="bold" fill="#f00" textLength="25.4" lengthAdjust="spacingAndGlyphs">DGZ</text>
<text x="74.4" y="558.9" font-size="11" font-weight="bold" fill="#f00" textLength="25.4" lengthAdjust="spacingAndGlyphs">DGZ</text>
<path d="M38.5 665.2v5.4M69.5 665.2v5.4M100.5 665.2v5.4" stroke="#000" stroke-width="1.1" fill="none"/>
<text x="39.3" y="682.4" font-size="10.8" text-anchor="middle" textLength="6.4" lengthAdjust="spacingAndGlyphs">0</text>
<text x="68.6" y="682.4" font-size="10.8" text-anchor="middle" textLength="15.5" lengthAdjust="spacingAndGlyphs">−1</text>
<text x="99.8" y="682.4" font-size="10.8" text-anchor="middle" textLength="15.5" lengthAdjust="spacingAndGlyphs">−2</text>
<text y="702.6" font-size="14.3"><tspan x="22.6" textLength="50.3" lengthAdjust="spacingAndGlyphs">Omega</tspan> <tspan x="77.4" textLength="39" lengthAdjust="spacingAndGlyphs">(Pa/s)</tspan></text>
<path d="M858.5 54 L835.9 42.6 L843.2 35 L841.5 45.5 L844.4 46.9 L846.1 36.4 L844.4 46.9Z" fill="#000" stroke="#000" stroke-width="0.82" stroke-linejoin="miter"/>
<path d="M857.7 113.7 L836.7 99.8 L844.9 93.1 L841.9 103.3 L844.6 105 L847.5 94.8 L844.6 105Z" fill="#000" stroke="#000" stroke-width="0.82" stroke-linejoin="miter"/>
<path d="M857.9 161.3 L836.5 147.7 L844.6 140.9 L841.9 151.1 L844.5 152.8 L847.3 142.6 L844.5 152.8 L847.2 154.5 L850 144.3 L847.2 154.5 L849.9 156.2 L851.3 151.1 L849.9 156.2Z" fill="#000" stroke="#000" stroke-width="0.82" stroke-linejoin="miter"/>
<path d="M859.1 199.3 L835.3 190.5 L841.8 182.1 L841.3 192.7 L844.2 193.8 L844.8 183.2 L844.2 193.8 L847.2 194.9 L847.7 184.3 L847.2 194.9 L850.2 196 L850.4 190.7 L850.2 196Z" fill="#000" stroke="#000" stroke-width="0.82" stroke-linejoin="miter"/>
<path d="M857.4 237.3 L837 222.4 L845.5 216.1 L842.1 226.1 L844.6 228 L848 218 L844.6 228 L847.2 229.9 L848.9 224.8 L847.2 229.9Z" fill="#000" stroke="#000" stroke-width="0.82" stroke-linejoin="miter"/>
<path d="M855.5 270.3 L838.9 251.1 L848.7 246.9 L843.1 255.9 L845.1 258.3 L850.7 249.3 L845.1 258.3 L847.2 260.7 L852.8 251.7 L847.2 260.7 L849.3 263.1 L854.9 254.1 L849.3 263.1 L851.3 265.5 L856.9 256.5 L851.3 265.5 L853.4 267.9 L856.2 263.4 L853.4 267.9Z" fill="#000" stroke="#000" stroke-width="0.82" stroke-linejoin="miter"/>
<path d="M856.1 297.3 L838.3 279.3 L847.7 274.4 L842.8 283.8 L845 286.1 L849.9 276.7 L845 286.1 L847.2 288.3 L852.2 278.9 L847.2 288.3 L849.4 290.6 L854.4 281.2 L849.4 290.6 L851.6 292.8 L856.6 283.4 L851.6 292.8 L853.9 295.1 L856.4 290.4 L853.9 295.1Z" fill="#000" stroke="#000" stroke-width="0.82" stroke-linejoin="miter"/>
<path d="M857.3 320.8 L837.1 305.7 L845.6 299.5 L842.1 309.5 L844.7 311.4 L848.2 301.4 L844.7 311.4 L847.2 313.3 L850.7 303.3 L847.2 313.3 L849.7 315.2 L853.3 305.2 L849.7 315.2 L852.3 317.1 L854 312.1 L852.3 317.1Z" fill="#000" stroke="#000" stroke-width="0.82" stroke-linejoin="miter"/>
<path d="M858 342.6 L836.4 329.5 L844.3 322.5 L841.8 332.8 L844.5 334.4 L847 324.1 L844.5 334.4 L847.2 336.1 L849.7 325.8 L847.2 336.1 L849.9 337.7 L852.4 327.4 L849.9 337.7Z" fill="#000" stroke="#000" stroke-width="0.82" stroke-linejoin="miter"/>
<path d="M858.5 362.7 L835.9 351.3 L843.3 343.7 L841.5 354.2 L844.4 355.6 L846.1 345.1 L844.4 355.6 L847.2 357 L848.9 346.6 L847.2 357 L850 358.4 L851.7 348 L850 358.4Z" fill="#000" stroke="#000" stroke-width="0.82" stroke-linejoin="miter"/>
<path d="M859.3 380.3 L835.1 372.6 L841.2 363.9 L841.2 374.5 L844.2 375.5 L844.2 364.9 L844.2 375.5 L847.2 376.4 L847.3 365.8 L847.2 376.4 L850.2 377.4 L850.3 366.8 L850.2 377.4Z" fill="#000" stroke="#000" stroke-width="0.82" stroke-linejoin="miter"/>
<path d="M859.7 396.7 L834.7 392.4 L839.6 382.9 L841 393.4 L844.1 394 L842.7 383.5 L844.1 394 L847.2 394.5 L845.8 384 L847.2 394.5Z" fill="#000" stroke="#000" stroke-width="0.82" stroke-linejoin="miter"/>
<path d="M859.8 412.4 L834.6 410.4 L838.5 400.6 L840.9 410.9 L844 411.2 L841.7 400.8 L844 411.2 L847.2 411.4 L846 406.2 L847.2 411.4Z" fill="#000" stroke="#000" stroke-width="0.82" stroke-linejoin="miter"/>
<path d="M859.9 427.3 L834.6 427.3 L837.7 417.2 L840.9 427.3 L844 427.3 L840.9 417.2 L844 427.3 L847.2 427.3 L845.6 422.2 L847.2 427.3Z" fill="#000" stroke="#000" stroke-width="0.82" stroke-linejoin="miter"/>
<path d="M859.9 456.4 L834.6 456.4 L837.7 446.3 L840.9 456.4 L844 456.4 L842.5 451.4 L844 456.4Z" fill="#000" stroke="#000" stroke-width="0.82" stroke-linejoin="miter"/>
<path d="M859.8 482.5 L834.6 482.8 L837.6 472.6 L840.9 482.7Z" fill="#000" stroke="#000" stroke-width="0.82" stroke-linejoin="miter"/>
<path d="M859.8 506.1 L834.6 506.8 L831.1 496.8 L834.6 506.8 L837.7 506.7 L834.3 496.7 L837.7 506.7 L840.9 506.6 L837.4 496.6 L840.9 506.6 L844 506.6 L840.6 496.5 L844 506.6 L847.2 506.5 L845.5 501.5 L847.2 506.5Z" fill="#000" stroke="#000" stroke-width="0.82" stroke-linejoin="miter"/>
<path d="M859.8 529.3 L834.6 527.3 L832.2 517 L834.6 527.3 L837.7 527.6 L835.4 517.2 L837.7 527.6 L840.9 527.8 L838.5 517.5 L840.9 527.8 L844 528.1 L841.7 517.7 L844 528.1Z" fill="#000" stroke="#000" stroke-width="0.82" stroke-linejoin="miter"/>
<path d="M859.6 551 L834.8 545.9 L833.7 535.4 L834.8 545.9 L837.9 546.6 L836.8 536 L837.9 546.6 L841 547.2 L839.9 536.7 L841 547.2 L844.1 547.8 L843.6 542.6 L844.1 547.8Z" fill="#000" stroke="#000" stroke-width="0.82" stroke-linejoin="miter"/>
<path d="M859.7 569.2 L834.7 565.2 L833.2 554.7 L834.7 565.2 L837.8 565.7 L836.3 555.2 L837.8 565.7 L841 566.2 L839.4 555.7 L841 566.2 L844.1 566.7 L843.3 561.4 L844.1 566.7Z" fill="#000" stroke="#000" stroke-width="0.82" stroke-linejoin="miter"/>
<path d="M859.5 587.7 L834.9 581.6 L834.3 571 L834.9 581.6 L838 582.4 L837.4 571.8 L838 582.4 L841.1 583.1 L840.4 572.5 L841.1 583.1 L844.1 583.9 L843.8 578.6 L844.1 583.9Z" fill="#000" stroke="#000" stroke-width="0.82" stroke-linejoin="miter"/>
<path d="M859.6 603.7 L834.8 598.4 L833.9 587.8 L834.8 598.4 L837.9 599 L837 588.5 L837.9 599 L841 599.7 L840.1 589.1 L841 599.7Z" fill="#000" stroke="#000" stroke-width="0.82" stroke-linejoin="miter"/>
<path d="M859.8 622.4 L834.6 625.2 L830.4 615.5 L834.6 625.2 L837.8 624.9 L833.5 615.2 L837.8 624.9 L840.9 624.5 L836.6 614.8 L840.9 624.5Z" fill="#000" stroke="#000" stroke-width="0.82" stroke-linejoin="miter"/>
<path d="M858.6 639.3 L835.8 650.3 L828.6 642.6 L835.8 650.3Z" fill="#000" stroke="#000" stroke-width="0.82" stroke-linejoin="miter"/>
<text x="990.9" y="51.9" font-size="9.6" text-anchor="middle" textLength="9.6" lengthAdjust="spacingAndGlyphs" clip-path="url(#clm)">LM</text>
<clipPath id="clm"><rect x="970" y="44.6" width="40" height="20"/></clipPath>
<clipPath id="ch"><rect x="876.5" y="49.7" width="220.2" height="187.7"/></clipPath>
<g clip-path="url(#ch)" fill="none">
<ellipse cx="901.6" cy="77.3" rx="25.7" ry="22.1" stroke="#a6a6a6" stroke-width="0.85" stroke-dasharray="1 1.75"/>
<ellipse cx="901.6" cy="77.3" rx="51.4" ry="44.2" stroke="#a6a6a6" stroke-width="0.85" stroke-dasharray="1 1.75"/>
<ellipse cx="901.6" cy="77.3" rx="77.1" ry="66.3" stroke="#a6a6a6" stroke-width="0.85" stroke-dasharray="1 1.75"/>
<ellipse cx="901.6" cy="77.3" rx="102.8" ry="88.4" stroke="#a6a6a6" stroke-width="0.85" stroke-dasharray="1 1.75"/>
<ellipse cx="901.6" cy="77.3" rx="128.5" ry="110.5" stroke="#a6a6a6" stroke-width="0.85" stroke-dasharray="1 1.75"/>
<ellipse cx="901.6" cy="77.3" rx="154.2" ry="132.6" stroke="#a6a6a6" stroke-width="0.85" stroke-dasharray="1 1.75"/>
<ellipse cx="901.6" cy="77.3" rx="179.9" ry="154.7" stroke="#a6a6a6" stroke-width="0.85" stroke-dasharray="1 1.75"/>
<ellipse cx="901.6" cy="77.3" rx="205.6" ry="176.8" stroke="#a6a6a6" stroke-width="0.85" stroke-dasharray="1 1.75"/>
<ellipse cx="901.6" cy="77.3" rx="231.3" ry="198.9" stroke="#a6a6a6" stroke-width="0.85" stroke-dasharray="1 1.75"/>
<ellipse cx="901.6" cy="77.3" rx="257" ry="221" stroke="#a6a6a6" stroke-width="0.85" stroke-dasharray="1 1.75"/>
<ellipse cx="901.6" cy="77.3" rx="282.7" ry="243.1" stroke="#a6a6a6" stroke-width="0.85" stroke-dasharray="1 1.75"/>
<ellipse cx="901.6" cy="77.3" rx="308.4" ry="265.2" stroke="#a6a6a6" stroke-width="0.85" stroke-dasharray="1 1.75"/>
<path d="M901.6 49.7V237.4M876.5 77.3H1096.7" stroke="#000" stroke-width="1"/>
<text x="926.9" y="95.4" font-size="10.8" fill="#808080" text-anchor="middle" stroke="none" textLength="13.2" lengthAdjust="spacingAndGlyphs">10</text>
<text x="952.6" y="95.4" font-size="10.8" fill="#808080" text-anchor="middle" stroke="none" textLength="13.2" lengthAdjust="spacingAndGlyphs">20</text>
<text x="978.3" y="95.4" font-size="10.8" fill="#808080" text-anchor="middle" stroke="none" textLength="13.2" lengthAdjust="spacingAndGlyphs">30</text>
<text x="1004" y="95.4" font-size="10.8" fill="#808080" text-anchor="middle" stroke="none" textLength="13.2" lengthAdjust="spacingAndGlyphs">40</text>
<text x="1029.7" y="95.4" font-size="10.8" fill="#808080" text-anchor="middle" stroke="none" textLength="13.2" lengthAdjust="spacingAndGlyphs">50</text>
<text x="1055.4" y="95.4" font-size="10.8" fill="#808080" text-anchor="middle" stroke="none" textLength="13.2" lengthAdjust="spacingAndGlyphs">60</text>
<text x="1081.1" y="95.4" font-size="10.8" fill="#808080" text-anchor="middle" stroke="none" textLength="13.2" lengthAdjust="spacingAndGlyphs">70</text>
<path d="M921.1 68.9 L938.9 67.4 L958.1 65.6 L961.8 66.5 L972.6 70.7 L978.6 75.7 L981.8 79.5 L982.4 84 L980.6 88.5 L980.4 91.5 L981.2 95.1 L984 94 L988 91 L992.5 89.7" stroke="#ff0000" stroke-width="2.2" stroke-linejoin="round" stroke-linecap="butt"/>
<path d="M992.5 89.7 L1000 86.1 L1005.1 83.9 L1012 78.9 L1019.3 73.5 L1025.3 70.5 L1028.3 70.5 L1036.1 72.9 L1042.7 74.7 L1051.8 75 L1058 75.8" stroke="#1a8c1a" stroke-width="2.2" stroke-linejoin="round" stroke-linecap="butt"/>
<path d="M1058 75.8 L1060.8 78.3 L1072.2 89.7 L1081.9 103 L1093.9 128.2 L1087.6 157.4 L1071.1 166.8 L1070.8 176" stroke="#ac12ac" stroke-width="2.2" stroke-linejoin="round" stroke-linecap="butt"/>
<path d="M1070.8 176 L1071.5 183.6 L1071.1 188.3 L1064 216.4 L1047.7 222 L1038 160.8" stroke="#1414ff" stroke-width="2.2" stroke-linejoin="round" stroke-linecap="butt"/>
<circle cx="990.9" cy="48" r="9" stroke="#000" stroke-width="1.6"/>
<circle cx="986.7" cy="112.8" r="9" stroke="#000" stroke-width="1.6"/>
<text x="986.9" y="116.2" font-size="9.4" fill="#000" text-anchor="middle" textLength="11.4" lengthAdjust="spacingAndGlyphs">RM</text>
<rect x="978.9" y="75.1" width="6.6" height="10" fill="#fff"/>
<text x="982.2" y="84.7" font-size="12.8" fill="#000" text-anchor="middle">1</text>
<rect x="985.1" y="85" width="6.6" height="10" fill="#fff"/>
<text x="988.4" y="94.6" font-size="12.8" fill="#000" text-anchor="middle">3</text>
<rect x="983.1" y="87.4" width="6.6" height="10" fill="#fff"/>
<text x="986.4" y="97" font-size="12.8" fill="#000" text-anchor="middle">2</text>
<rect x="1053.3" y="70" width="6.6" height="10" fill="#fff"/>
<text x="1056.6" y="79.6" font-size="12.8" fill="#000" text-anchor="middle">6</text>
<rect x="1067.8" y="172.1" width="6.6" height="10" fill="#fff"/>
<text x="1071.1" y="181.7" font-size="12.8" fill="#000" text-anchor="middle">9</text>
</g>
<rect x="876.5" y="49.7" width="220.2" height="187.7" fill="none" stroke="#000" stroke-width="1.1"/>
<text y="250.8" font-size="11.4"><tspan x="883.2" textLength="61.5" lengthAdjust="spacingAndGlyphs">Hodograph</tspan> <tspan x="948.2" textLength="30.6" lengthAdjust="spacingAndGlyphs">(wind</tspan> <tspan x="982.3" textLength="10.1" lengthAdjust="spacingAndGlyphs">in</tspan> <tspan x="996" textLength="14.3" lengthAdjust="spacingAndGlyphs">kt,</tspan> <tspan x="1013.9" textLength="35.4" lengthAdjust="spacingAndGlyphs">height</tspan> <tspan x="1052.8" textLength="10.1" lengthAdjust="spacingAndGlyphs">in</tspan> <tspan x="1066.5" textLength="21.6" lengthAdjust="spacingAndGlyphs">km)</tspan></text>
<text x="890.4" y="36" font-size="16.3" font-weight="bold" fill="#808080" textLength="193" lengthAdjust="spacingAndGlyphs">TROPICALTIDBITS.COM</text>
<text x="876.7" y="286.3" class="m" font-size="14.3" fill="#a626a6" stroke="#a626a6" stroke-width="0.28" letter-spacing="-0.241" xml:space="preserve">SRH 0-1km:</text>
<text x="1010.1" y="286.3" class="m" font-size="14.3" fill="#a626a6" stroke="#a626a6" stroke-width="0.28" letter-spacing="-0.241" xml:space="preserve">127</text>
<text x="1043.8" y="286.3" font-size="16.4" font-style="italic" fill="#a626a6">m<tspan dy="-5.6" font-size="11" font-style="normal">2</tspan><tspan dy="5.6">s</tspan><tspan dy="-5.6" font-size="11" font-style="normal" textLength="14.6" lengthAdjust="spacingAndGlyphs">−2</tspan></text>
<text x="876.7" y="303.4" class="m" font-size="14.3" fill="#000" stroke="#000" stroke-width="0.28" letter-spacing="-0.241" xml:space="preserve">SRH 0-3km:</text>
<text x="1010.1" y="303.4" class="m" font-size="14.3" fill="#000" stroke="#000" stroke-width="0.28" letter-spacing="-0.241" xml:space="preserve">129</text>
<text x="1043.8" y="303.4" font-size="16.4" font-style="italic" fill="#000">m<tspan dy="-5.6" font-size="11" font-style="normal">2</tspan><tspan dy="5.6">s</tspan><tspan dy="-5.6" font-size="11" font-style="normal" textLength="14.6" lengthAdjust="spacingAndGlyphs">−2</tspan></text>
<text x="875.5" y="322.3" class="m" font-size="14.3" fill="#000" stroke="#000" stroke-width="0.28" letter-spacing="-0.161" xml:space="preserve">SBCAPE:</text>
<text x="1027.1" y="322.3" class="m" font-size="14.3" fill="#000" stroke="#000" stroke-width="0.28" letter-spacing="-0.161" xml:space="preserve">0 J/kg</text>
<text x="875.5" y="339.4" class="m" font-size="14.3" fill="#000" stroke="#000" stroke-width="0.28" letter-spacing="-0.161" xml:space="preserve">MLCAPE:</text>
<text x="1027.1" y="339.4" class="m" font-size="14.3" fill="#000" stroke="#000" stroke-width="0.28" letter-spacing="-0.161" xml:space="preserve">0 J/kg</text>
<text x="875.5" y="357.4" class="m" font-size="14.3" fill="#000" stroke="#000" stroke-width="0.28" letter-spacing="-0.161" xml:space="preserve">MUCAPE:</text>
<text x="1027.1" y="357.4" class="m" font-size="14.3" fill="#000" stroke="#000" stroke-width="0.28" letter-spacing="-0.161" xml:space="preserve">0 J/kg</text>
<text x="875.5" y="374.5" class="m" font-size="14.3" fill="#000" stroke="#000" stroke-width="0.28" letter-spacing="-0.161" xml:space="preserve">SBCIN:</text>
<text x="1027.1" y="374.5" class="m" font-size="14.3" fill="#000" stroke="#000" stroke-width="0.28" letter-spacing="-0.161" xml:space="preserve">0 J/kg</text>
<text x="875.5" y="392.3" class="m" font-size="14.3" fill="#000" stroke="#000" stroke-width="0.28" letter-spacing="-0.161" xml:space="preserve">MLCIN:</text>
<text x="1027.1" y="392.3" class="m" font-size="14.3" fill="#000" stroke="#000" stroke-width="0.28" letter-spacing="-0.161" xml:space="preserve">0 J/kg</text>
<text x="875.5" y="409.3" class="m" font-size="14.3" fill="#000" stroke="#000" stroke-width="0.28" letter-spacing="-0.161" xml:space="preserve">DCAPE:</text>
<text x="1027.1" y="409.3" class="m" font-size="14.3" fill="#000" stroke="#000" stroke-width="0.28" letter-spacing="-0.161" xml:space="preserve">0 J/kg</text>
<text x="875.5" y="427.3" class="m" font-size="14.3" fill="#a52c38" stroke="#a52c38" stroke-width="0.28" letter-spacing="-0.161" xml:space="preserve">SHR 200-850mb:   40 kt</text>
<text x="875.5" y="444.3" class="m" font-size="14.3" fill="#8c5a12" stroke="#8c5a12" stroke-width="0.28" letter-spacing="-0.161" xml:space="preserve">RH 300-850mb:    43 %</text>
<text x="875.5" y="462.2" class="m" font-size="14.3" fill="#000" stroke="#000" stroke-width="0.28" letter-spacing="-0.161" xml:space="preserve">PWAT:</text>
<text x="1001.8" y="462.2" class="m" font-size="14.3" fill="#000" stroke="#000" stroke-width="0.28" letter-spacing="-0.161" xml:space="preserve">0.32 in</text>
<clipPath id="ct"><rect x="892.4" y="500.6" width="204.2" height="164.5"/></clipPath>
<path d="M1083 499.9 L1073.3 506.9 L1059.1 516 L1056.9 521.5 L1056.1 526.1 L1053.6 533 L1049.2 538.5 L1040.4 543.9 L1032.2 548.9 L1021.3 557.6 L1010.8 565.9 L1003.4 572.7 L999.3 577.7 L993.8 589.2 L989.7 597.9 L988.4 604.2 L989.7 609.7 L992.5 615.2 L990.5 619.9 L981.5 626.2 L966.4 631.7 L950.5 637.1 L942.6 641.8 L941.2 644 L940.9 648.7" stroke="#2e97b5" stroke-width="2.5" fill="none" stroke-linejoin="round" clip-path="url(#ct)"/>
<rect x="892.4" y="500.6" width="204.2" height="164.5" fill="none" stroke="#000" stroke-width="1.1"/>
<text x="901.8" y="526.1" font-size="10.8" textLength="20.2" lengthAdjust="spacingAndGlyphs">400</text>
<text x="901.8" y="570.4" font-size="10.8" textLength="20.2" lengthAdjust="spacingAndGlyphs">600</text>
<text x="901.8" y="614.7" font-size="10.8" textLength="20.2" lengthAdjust="spacingAndGlyphs">800</text>
<text x="917.4" y="656.6" font-size="10.8" text-anchor="middle" textLength="20.2" lengthAdjust="spacingAndGlyphs">280</text>
<text x="964.2" y="656.6" font-size="10.8" text-anchor="middle" textLength="20.2" lengthAdjust="spacingAndGlyphs">290</text>
<text x="1010.9" y="656.6" font-size="10.8" text-anchor="middle" textLength="20.2" lengthAdjust="spacingAndGlyphs">300</text>
<text x="1057.7" y="656.6" font-size="10.8" text-anchor="middle" textLength="20.2" lengthAdjust="spacingAndGlyphs">310</text>
<path d="M892.4 521.5h5M892.4 565.8h5M892.4 610.1h5M892.4 654.4h5M917.4 665.1v-5M964.2 665.1v-5M1010.9 665.1v-5M1057.7 665.1v-5" stroke="#000" stroke-width="1.1" fill="none"/>
<text y="677.9" font-size="11.4"><tspan x="905.2" textLength="58.9" lengthAdjust="spacingAndGlyphs">Equivalent</tspan> <tspan x="967.6" textLength="21" lengthAdjust="spacingAndGlyphs">Pot.</tspan> <tspan x="992.1" textLength="70.4" lengthAdjust="spacingAndGlyphs">Temperature</tspan> <tspan x="1066.1" textLength="16" lengthAdjust="spacingAndGlyphs">(K)</tspan></text>
<text y="0" font-size="11.4" transform="translate(884.5 582.6) rotate(-90)"><tspan x="-39.8" textLength="47.4" lengthAdjust="spacingAndGlyphs">Pressure</tspan> <tspan x="11.1" textLength="28.7" lengthAdjust="spacingAndGlyphs">(hPa)</tspan></text>
</svg>
</body>
</html>
